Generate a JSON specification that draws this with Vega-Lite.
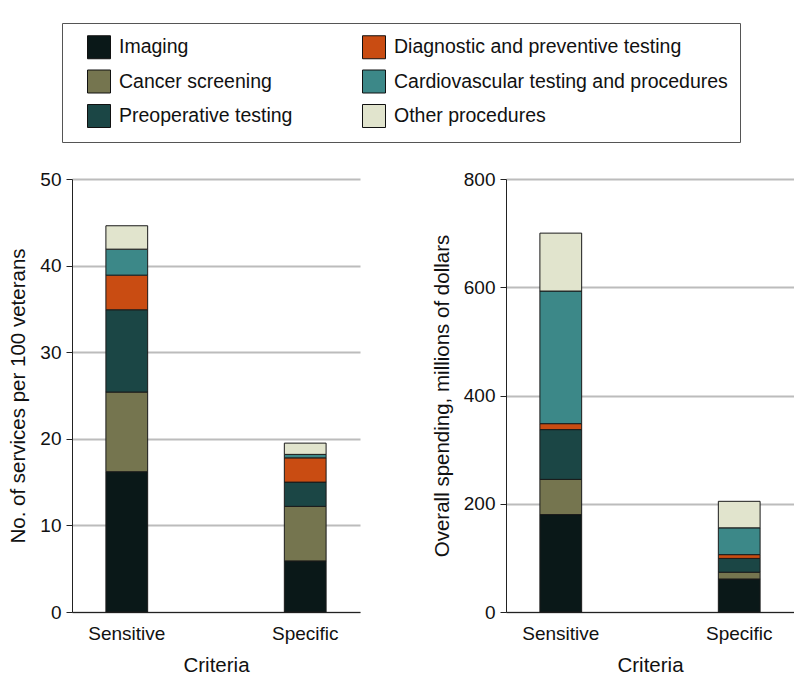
{
  "$schema": "https://vega.github.io/schema/vega-lite/v6.json",
  "padding": {"left": 8, "top": 22, "right": 1, "bottom": 5},
  "bounds": "flush",
  "spacing": 146,
  "config": {
    "font": "Liberation Sans",
    "view": {"stroke": null},
    "axisY": {
      "domainColor": "#222", "tickColor": "#222", "tickSize": 6, "labelPadding": 5,
      "labelFontSize": 19, "labelColor": "#111", "titleFontSize": 20.5, "titleFontWeight": "normal",
      "titleColor": "#111", "titlePadding": 11, "gridColor": "#bcbcbc", "gridWidth": 2
    },
    "axisX": {
      "domainColor": "#222", "ticks": false, "labelPadding": 12, "labelFontSize": 19, "labelAngle": 0,
      "labelColor": "#111", "titleFontSize": 20.5, "titleFontWeight": "normal", "titleColor": "#111",
      "titlePadding": 12, "grid": false
    }
  },
  "datasets": {
    "services": [
      {"criteria": "Sensitive", "category": "Imaging", "value": 16.2},
      {"criteria": "Sensitive", "category": "Cancer screening", "value": 9.2},
      {"criteria": "Sensitive", "category": "Preoperative testing", "value": 9.5},
      {"criteria": "Sensitive", "category": "Diagnostic and preventive testing", "value": 4.0},
      {"criteria": "Sensitive", "category": "Cardiovascular testing and procedures", "value": 3.0},
      {"criteria": "Sensitive", "category": "Other procedures", "value": 2.7},
      {"criteria": "Specific", "category": "Imaging", "value": 5.9},
      {"criteria": "Specific", "category": "Cancer screening", "value": 6.3},
      {"criteria": "Specific", "category": "Preoperative testing", "value": 2.8},
      {"criteria": "Specific", "category": "Diagnostic and preventive testing", "value": 2.8},
      {"criteria": "Specific", "category": "Cardiovascular testing and procedures", "value": 0.4},
      {"criteria": "Specific", "category": "Other procedures", "value": 1.3}
    ],
    "spending": [
      {"criteria": "Sensitive", "category": "Imaging", "value": 180},
      {"criteria": "Sensitive", "category": "Cancer screening", "value": 65},
      {"criteria": "Sensitive", "category": "Preoperative testing", "value": 92},
      {"criteria": "Sensitive", "category": "Diagnostic and preventive testing", "value": 11},
      {"criteria": "Sensitive", "category": "Cardiovascular testing and procedures", "value": 245},
      {"criteria": "Sensitive", "category": "Other procedures", "value": 107},
      {"criteria": "Specific", "category": "Imaging", "value": 61},
      {"criteria": "Specific", "category": "Cancer screening", "value": 12.5},
      {"criteria": "Specific", "category": "Preoperative testing", "value": 25.5},
      {"criteria": "Specific", "category": "Diagnostic and preventive testing", "value": 7},
      {"criteria": "Specific", "category": "Cardiovascular testing and procedures", "value": 49.5},
      {"criteria": "Specific", "category": "Other procedures", "value": 49}
    ]
  },
  "resolve": {"scale": {"y": "independent"}},
  "hconcat": [
    {
      "width": 288, "height": 433,
      "data": {"name": "services"},
      "transform": [
        {"calculate": "indexof(['Imaging', 'Cancer screening', 'Preoperative testing', 'Diagnostic and preventive testing', 'Cardiovascular testing and procedures', 'Other procedures'], datum.category)", "as": "stackIdx"}
      ],
      "mark": {"type": "bar", "stroke": "#1a1a1a", "strokeWidth": 1},
      "encoding": {
        "x": {"field": "criteria", "type": "nominal", "title": "Criteria",
              "scale": {"paddingInner": 0.766, "paddingOuter": 0.19}},
        "y": {"field": "value", "type": "quantitative", "stack": "zero",
              "title": "No. of services per 100 veterans",
              "scale": {"domain": [0, 50], "nice": false},
              "axis": {"values": [0, 10, 20, 30, 40, 50]}},
        "order": {"field": "stackIdx", "type": "quantitative", "sort": "ascending"},
        "color": {
          "field": "category", "type": "nominal",
          "scale": {
            "domain": ["Imaging", "Cancer screening", "Preoperative testing", "Diagnostic and preventive testing", "Cardiovascular testing and procedures", "Other procedures"],
            "range": ["#0a1818", "#75754f", "#1b4645", "#c94c12", "#3c8888", "#e1e4cd"]
          },
          "legend": {
            "orient": "none", "legendX": -10, "legendY": -156, "columns": 2,
            "title": null, "symbolType": "square", "symbolSize": 529,
            "symbolStrokeColor": "#111", "symbolStrokeWidth": 1, "symbolOpacity": 1,
            "labelFontSize": 19.5, "labelColor": "#111", "labelLimit": 400,
            "rowPadding": 6.5, "columnPadding": 56, "labelOffset": 8,
            "padding": 12, "symbolOffset": 13,
            "strokeColor": "#555", "fillColor": "white"
          }
        }
      }
    },
    {
      "width": 288, "height": 433,
      "data": {"name": "spending"},
      "transform": [
        {"calculate": "indexof(['Imaging', 'Cancer screening', 'Preoperative testing', 'Diagnostic and preventive testing', 'Cardiovascular testing and procedures', 'Other procedures'], datum.category)", "as": "stackIdx"}
      ],
      "mark": {"type": "bar", "stroke": "#1a1a1a", "strokeWidth": 1},
      "encoding": {
        "x": {"field": "criteria", "type": "nominal", "title": "Criteria",
              "scale": {"paddingInner": 0.766, "paddingOuter": 0.19}},
        "y": {"field": "value", "type": "quantitative", "stack": "zero",
              "title": "Overall spending, millions of dollars",
              "scale": {"domain": [0, 800], "nice": false},
              "axis": {"values": [0, 200, 400, 600, 800]}},
        "order": {"field": "stackIdx", "type": "quantitative", "sort": "ascending"},
        "color": {
          "field": "category", "type": "nominal",
          "scale": {
            "domain": ["Imaging", "Cancer screening", "Preoperative testing", "Diagnostic and preventive testing", "Cardiovascular testing and procedures", "Other procedures"],
            "range": ["#0a1818", "#75754f", "#1b4645", "#c94c12", "#3c8888", "#e1e4cd"]
          },
          "legend": {
            "orient": "none", "legendX": -10, "legendY": -156, "columns": 2,
            "title": null, "symbolType": "square", "symbolSize": 529,
            "symbolStrokeColor": "#111", "symbolStrokeWidth": 1, "symbolOpacity": 1,
            "labelFontSize": 19.5, "labelColor": "#111", "labelLimit": 400,
            "rowPadding": 6.5, "columnPadding": 56, "labelOffset": 8,
            "padding": 12, "symbolOffset": 13,
            "strokeColor": "#555", "fillColor": "white"
          }
        }
      }
    }
  ]
}
